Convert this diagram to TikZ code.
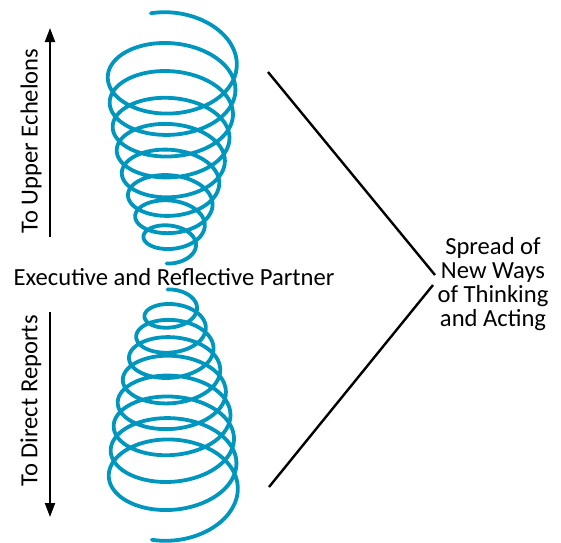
\documentclass[tikz,border=0pt]{standalone}
\usepackage{fontspec}
\setmainfont{Carlito}
\usetikzlibrary{arrows.meta}
\definecolor{spiralblue}{RGB}{0,150,190}
\begin{document}
\begin{tikzpicture}[x=1pt,y=-1pt,
  spiral/.style={draw=spiralblue, line width=3.8pt, line join=round, line cap=round},
  lbl/.style={font=\fontsize{24.6}{24}\selectfont, inner sep=0pt},
  conn/.style={line width=2.4pt},
  vec/.style={line width=2pt, -{Triangle[length=14pt,width=10pt]}}]
\useasboundingbox (0,0) rectangle (561,542);

% upper spiral (narrowing downward); u = s/360 turns
\draw[spiral] plot[domain=-19:3075, samples=1000, variable=\s]
  ({172+(65-0.6*(\s/360)-0.53*(\s/360)*(\s/360))*sin(\s)},
   {58+26*(\s/360)-0.39*(\s/360)*(\s/360)
     -(65-0.6*(\s/360)-0.53*(\s/360)*(\s/360))*(0.58+0.12*exp(-\s/432))*cos(\s)});
% lower spiral (mirror image)
\draw[spiral] plot[domain=-19:3075, samples=1000, variable=\s]
  ({173+(65-0.6*(\s/360)-0.53*(\s/360)*(\s/360))*sin(\s)},
   {553-58-26*(\s/360)+0.39*(\s/360)*(\s/360)
     +(65-0.6*(\s/360)-0.53*(\s/360)*(\s/360))*(0.58+0.12*exp(-\s/432))*cos(\s)});

% labels
\node[lbl, anchor=base] (exec) at (174,285) {Executive and Reflective Partner};
\node[lbl, align=center] (spread) at (493,284) {Spread of\\New Ways\\of Thinking\\and Acting};
\node[lbl, rotate=90] (up) at (31,141) {To Upper Echelons};
\node[lbl, rotate=90] (down) at (31,401) {To Direct Reports};

% vertical arrows
\coordinate (ua0) at (50,237);
\coordinate (ua1) at (50,28);
\coordinate (da0) at (50,312);
\coordinate (da1) at (50,517);
\draw[vec] (ua0) -- (ua1);
\draw[vec] (da0) -- (da1);

% converging lines
\coordinate (c1) at (268,72);
\coordinate (c2) at (435,275);
\coordinate (c3) at (433,285);
\coordinate (c4) at (269,487);
\draw[conn] (c1) -- (c2);
\draw[conn] (c3) -- (c4);
\end{tikzpicture}
\end{document}
